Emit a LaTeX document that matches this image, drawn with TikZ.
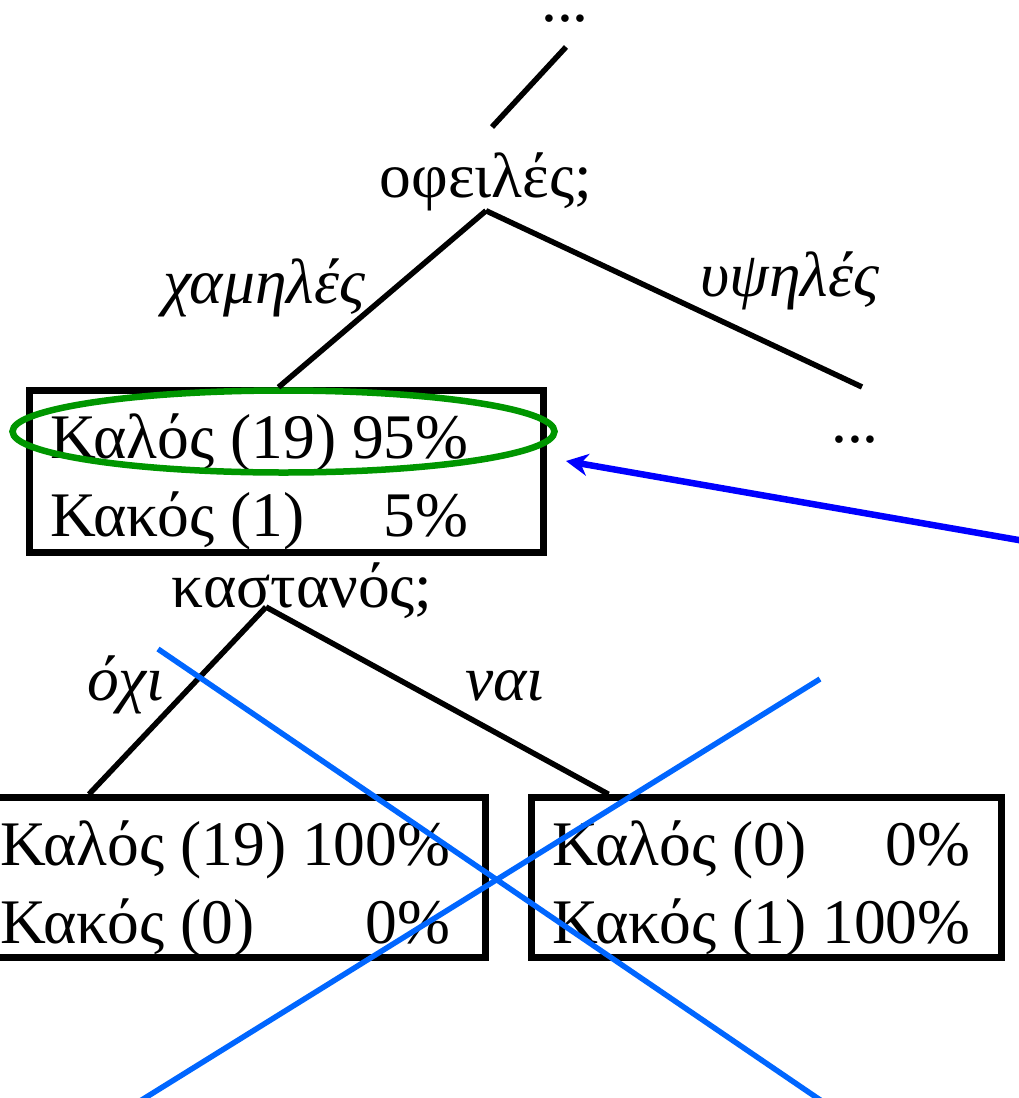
\documentclass[tikz,border=0pt]{standalone}
\usepackage{fontspec}
\setmainfont{Liberation Serif}
\usepackage{tikz}
\definecolor{ringgreen}{RGB}{0,150,0}
\definecolor{hintblue}{RGB}{0,0,255}
\definecolor{crossblue}{RGB}{0,102,255}
\usetikzlibrary{arrows.meta,shapes.geometric}

\begin{document}
\begin{tikzpicture}[x=1pt,y=-1pt,font=\fontsize{63.5}{78}\selectfont,
  word/.style={inner sep=0pt,anchor=base},
  branch/.style={inner sep=0pt,anchor=base,font=\fontsize{63.5}{78}\selectfont\itshape},
  leaf/.style={draw,line width=6.5pt,minimum height=160pt,inner sep=0pt},
  rows/.style={inner sep=0pt,anchor=base west},
  edge/.style={line width=5.5pt},
  cross/.style={crossblue,line width=5.5pt}]
  \useasboundingbox (0,0) rectangle (1019,1098);
  \node[word] (topdots) at (565,21) {...};
  \node[word] (debts) at (486,197) {οφειλές;};
  \node[branch] (low) at (264,303) {χαμηλές};
  \node[branch] (high) at (790,296) {υψηλές};
  \node[leaf,minimum width=514pt,minimum height=162pt] (lowbox) at (286.5,471.5) {};
  \node[rows] (lowtab) at (50,458) {\begin{tabular}[t]{@{}l@{\ }r@{}}Καλός (19) & 95\% \\ Κακός (1) & 5\%\end{tabular}};
  \node[draw=ringgreen,line width=6.5pt,ellipse,inner sep=0pt,minimum width=542pt,minimum height=82pt] (ring) at (283.5,431.5) {};
  \node[word] (highdots) at (855,442) {...};
  \node[word] (chestnut) at (302,607) {καστανός;};
  \node[branch] (no) at (126,700) {όχι};
  \node[branch] (yes) at (505,700) {ναι};
  \node[leaf,minimum width=505pt] (leftbox) at (233,877.5) {};
  \node[rows] (lefttab) at (0,865) {\begin{tabular}[t]{@{}l@{\ }r@{}}Καλός (19) & 100\% \\ Κακός (0) & 0\%\end{tabular}};
  \node[leaf,minimum width=470pt] (rightbox) at (766.5,877.5) {};
  \node[rows] (righttab) at (552,865) {\begin{tabular}[t]{@{}l@{\ }r@{}}Καλός (0) & 0\% \\ Κακός (1) & 100\%\end{tabular}};
  \coordinate (rootup) at (566,47);
  \coordinate (rootdown) at (492,127);
  \coordinate (highend) at (862,387);
  \coordinate (fork) at (266,607);
  \coordinate (hintstart) at (1030,542);
  \coordinate (hinttip) at (566,461);
  \draw[edge] (rootup) -- (rootdown);
  \draw[edge] (debts.south) -- ([xshift=-8pt]lowbox.north);
  \draw[edge] (debts.south) -- (highend);
  \draw[edge] (fork) -- ([xshift=-144pt]leftbox.north);
  \draw[edge] (fork) -- ([xshift=-158pt]rightbox.north);
  \draw[hintblue,line width=6.5pt,-{Stealth[length=22pt,width=22pt]}] (hintstart) -- (hinttip);
  \draw[cross] (158,649) -- (829,1106);
  \draw[cross] (820,679) -- (132,1106);
\end{tikzpicture}
\end{document}
